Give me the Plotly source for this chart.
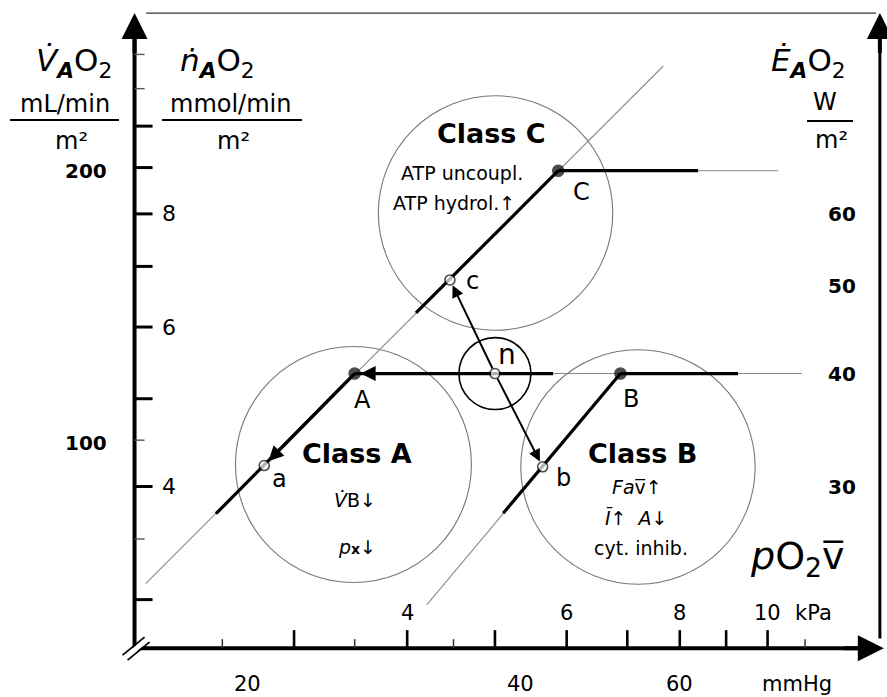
import numpy as np
import plotly.graph_objects as go

# ---------------- data ----------------
MMHG_PER_KPA = 7.50062          # 1 kPa = 7.5 mmHg
ML_PER_MMOL = 22.4              # 1 mmol O2 = 22.4 mL
ML_PER_W = 60.0 / 20.1          # 1 W  ~ 2.985 mL O2 / min

# frame of the diagram (pO2 in mmHg, VO2 in mL/min/m2)
pO2_axis_min = 15.0
pO2_axis_max = 99.8
pO2_arrow_tip = 100.8
VO2_axis_min = 59.4
VO2_axis_max = 298.6

# bottom axis ticks
mmHg_major = [20, 30, 40, 50, 60, 70, 80, 90]
mmHg_minor = [25, 35, 45]
mmHg_labeled = [20, 40, 60]
kPa_major = [3, 4, 5, 6, 7, 8, 9, 10]
kPa_minor = [2.5, 3.5, 4.5, 11]
kPa_labeled = [4, 6, 8, 10]
# top line ticks (kPa)
top_kPa_major = [3, 4, 5, 6, 7, 8, 9, 10]
top_kPa_minor = [2.5, 3.5, 4.5, 11, 12]
# left axis ticks
mL_major = [100, 200]
mL_minor = [70, 80, 90, 120, 140, 160, 180, 250]
mmol_major = [3, 4, 5, 6, 7, 8, 9, 10]
mmol_minor = [3.5, 4.5, 11, 12]
mmol_labeled = [4, 6, 8]
# right axis ticks (W/m2)
W_major = [30, 40, 50, 60, 70, 80, 90]
W_minor = [25, 35]
W_labeled = [30, 40, 50, 60]

# states
state_names = ["n", "A", "B", "C", "a", "b", "c"]
state_pO2 = [37.5, 26.25, 51.6, 44.05, 20.86, 42.34, 33.45]   # mmHg
state_VO2 = [119.4, 119.4, 119.4, 200.0, 94.5, 94.2, 151.5]   # mL/min/m2
state_filled = [False, True, True, True, False, False, False]

# thin guide lines
guide_pO2 = [[15.43, 57.54], [31.53, 51.6], [37.5, 81.86], [44.05, 77.07]]
guide_VO2 = [[70.0, 261.0], [66.3, 119.4], [119.4, 119.4], [200.0, 200.0]]
# thick segments
thick_pO2 = [[18.45, 26.25], [30.68, 44.05], [38.3, 51.6],
             [26.25, 43.47], [51.6, 69.57], [44.05, 62.84]]
thick_VO2 = [[83.6, 119.4], [139.3, 200.0], [83.7, 119.4],
             [119.4, 119.4], [119.4, 119.4], [200.0, 200.0]]

# arrows between states
arrow_pairs = [("n", "A"), ("A", "a"), ("n", "c"), ("n", "b")]

# class circles: centre and radius (natural-log units)
circle_names = ["Class A", "Class B", "Class C", "n-circle"]
circle_pO2 = [26.17, 53.95, 37.56, 37.5]
circle_VO2 = [94.75, 94.15, 179.6, 119.4]
circle_radius = [0.300, 0.298, 0.298, 0.0915]

class_notes = {
    "Class A": ["<i>V\u0307</i>B\u2193", "<i>p</i><b><span style='font-size:14px'>x</span></b>\u2193"],
    "Class B": ["<i>Fa</i>v\u0305\u2191", "<i>\u012a</i>\u2191  <i>A</i>\u2193", "cyt. inhib."],
    "Class C": ["ATP uncoupl.", "ATP hydrol.\u2191"],
}

# ---------------- style ----------------
FONT = "DejaVu Sans"
W, H = 887, 697
x_range = [1.02752, 2.00698]
y_range = [1.71983, 2.48954]
PX_PER_DECADE = W / (x_range[1] - x_range[0])
lg = np.log10

state_label_shift = {"n": (12, 19), "A": (8, -26), "B": (11, -25), "C": (23, -21),
                     "a": (15, -13), "b": (21, -11), "c": (23, -1)}
state_label_size = {"n": 28}
class_title_shift = {"Class A": (4, 11), "Class B": (5, 14), "Class C": (-4, 80)}
class_note_shift = {"Class A": [(2, -35), (4, -82)],
                    "Class B": [(-1, -20), (-1, -50), (3, -81)],
                    "Class C": [(-34, 40), (-42, 10)]}
arrow_style = {("n", "A"): (3, 1.0), ("A", "a"): (3, 1.0), ("n", "c"): (2, 1.2), ("n", "b"): (2, 1.2)}

fig = go.Figure()
shapes = []
ann = []

# class circles
for name, cx, cy, r in zip(circle_names, circle_pO2, circle_VO2, circle_radius):
    k = np.exp(r)
    small = name == "n-circle"
    shapes.append(dict(type="circle", xref="x", yref="y", x0=cx / k, x1=cx * k, y0=cy / k, y1=cy * k,
                       line=dict(color="black" if small else "#777777", width=1.6 if small else 1.1),
                       layer="below"))

# thin guide lines
for xs, ys in zip(guide_pO2, guide_VO2):
    fig.add_trace(go.Scatter(x=xs, y=ys, mode="lines", line=dict(color="#8a8a8a", width=1.1),
                             hoverinfo="skip", showlegend=False))
# thick segments
for xs, ys in zip(thick_pO2, thick_VO2):
    fig.add_trace(go.Scatter(x=xs, y=ys, mode="lines", line=dict(color="black", width=3.2),
                             hoverinfo="skip", showlegend=False))

# arrows
idx = {n: i for i, n in enumerate(state_names)}
for a, b in arrow_pairs:
    w, s = arrow_style[(a, b)]
    ann.append(dict(x=lg(state_pO2[idx[b]]), y=lg(state_VO2[idx[b]]),
                    ax=lg(state_pO2[idx[a]]), ay=lg(state_VO2[idx[a]]),
                    xref="x", yref="y", axref="x", ayref="y", text="", showarrow=True,
                    arrowhead=2, arrowwidth=w, arrowsize=s, arrowcolor="black",
                    standoff=6, startstandoff=4))

# state markers
fig.add_trace(go.Scatter(
    x=state_pO2, y=state_VO2, mode="markers",
    marker=dict(size=[11 if f else 10 for f in state_filled],
                color=["black" if f else "white" for f in state_filled],
                line=dict(color="black", width=1.6)),
    hoverinfo="skip", showlegend=False))

for n, x, y in zip(state_names, state_pO2, state_VO2):
    dx, dy = state_label_shift[n]
    ann.append(dict(x=lg(x), y=lg(y), xref="x", yref="y", text=n, showarrow=False,
                    xanchor="center", yanchor="middle",
                    xshift=dx, yshift=dy, font=dict(family=FONT, size=state_label_size.get(n, 24), color="black")))

# class texts
for name, cx, cy in zip(circle_names, circle_pO2, circle_VO2):
    if name not in class_notes:
        continue
    dx, dy = class_title_shift[name]
    ann.append(dict(x=lg(cx), y=lg(cy), xref="x", yref="y", text="<b>%s</b>" % name, showarrow=False,
                    xanchor="center", yanchor="middle",
                    xshift=dx, yshift=dy, font=dict(family=FONT, size=27, color="black")))
    for note, (ndx, ndy) in zip(class_notes[name], class_note_shift[name]):
        ann.append(dict(x=lg(cx), y=lg(cy), xref="x", yref="y", text=note, showarrow=False,
                        xanchor="center", yanchor="middle",
                        xshift=ndx, yshift=ndy, font=dict(family=FONT, size=19, color="black")))

# ---------------- axes ----------------
fig.add_trace(go.Scatter(x=[pO2_axis_min, pO2_axis_min], y=[VO2_axis_min, VO2_axis_max * 0.95],
                         mode="lines", line=dict(color="black", width=4), hoverinfo="skip", showlegend=False))
fig.add_trace(go.Scatter(x=[pO2_axis_min, pO2_arrow_tip * 0.95], y=[VO2_axis_min, VO2_axis_min],
                         mode="lines", line=dict(color="black", width=4), hoverinfo="skip", showlegend=False))
fig.add_trace(go.Scatter(x=[pO2_axis_max, pO2_axis_max], y=[VO2_axis_min * 1.025, VO2_axis_max * 0.95],
                         mode="lines", line=dict(color="black", width=3), hoverinfo="skip", showlegend=False))
fig.add_trace(go.Scatter(x=[pO2_axis_min * 1.03, pO2_axis_max * 0.99], y=[VO2_axis_max, VO2_axis_max],
                         mode="lines", line=dict(color="#333333", width=1.4), hoverinfo="skip", showlegend=False))

# axis break marks "//" at the origin (offsets in screen pixels, up positive)
for (a0, b0, a1, b1, col, wd) in [(-10, -10, 13, 9, "white", 5),
                                  (-12, -7, 10, 11, "black", 1.8),
                                  (-7, -12, 15, 6, "black", 1.8)]:
    fig.add_trace(go.Scatter(
        x=[pO2_axis_min * 10 ** (a0 / PX_PER_DECADE), pO2_axis_min * 10 ** (a1 / PX_PER_DECADE)],
        y=[VO2_axis_min * 10 ** (b0 / PX_PER_DECADE), VO2_axis_min * 10 ** (b1 / PX_PER_DECADE)],
        mode="lines", line=dict(color=col, width=wd), hoverinfo="skip", showlegend=False))

# axis arrowheads
for (x0, y0, x1, y1) in [(pO2_axis_min, VO2_axis_max * 0.9, pO2_axis_min, VO2_axis_max),
                         (pO2_axis_max, VO2_axis_max * 0.9, pO2_axis_max, VO2_axis_max),
                         (pO2_arrow_tip * 0.9, VO2_axis_min, pO2_arrow_tip, VO2_axis_min)]:
    ann.append(dict(x=lg(x1), y=lg(y1), ax=lg(x0), ay=lg(y0), xref="x", yref="y", axref="x", ayref="y",
                    text="", showarrow=True, arrowhead=2, arrowwidth=4, arrowsize=1.3, arrowcolor="black",
                    standoff=0))


def vtick(xval, yanchor, p0, p1, width, color="black"):
    shapes.append(dict(type="line", xref="x", yref="y", ysizemode="pixel", yanchor=yanchor,
                       x0=xval, x1=xval, y0=p0, y1=p1, line=dict(color=color, width=width)))


def htick(yval, xanchor, p0, p1, width, color="black"):
    shapes.append(dict(type="line", xref="x", yref="y", xsizemode="pixel", xanchor=xanchor,
                       y0=yval, y1=yval, x0=p0, x1=p1, line=dict(color=color, width=width)))


for v in mmHg_major:
    vtick(v, VO2_axis_min, 0, -19, 2.6)
for v in mmHg_minor:
    vtick(v, VO2_axis_min, 0, -10, 1.5, "#333333")
for v in kPa_major:
    vtick(v * MMHG_PER_KPA, VO2_axis_min, 0, 18, 2.6)
for v in kPa_minor:
    vtick(v * MMHG_PER_KPA, VO2_axis_min, 0, 9, 1.5, "#333333")
for v in top_kPa_major:
    vtick(v * MMHG_PER_KPA, VO2_axis_max, 0, -17, 1.4, "#333333")
for v in top_kPa_minor:
    vtick(v * MMHG_PER_KPA, VO2_axis_max, 0, -8, 1.4, "#333333")
for v in mL_major:
    htick(v, pO2_axis_min, -18, 0, 3)
for v in mL_minor:
    htick(v, pO2_axis_min, -18, 0, 1.4, "#444444")
for v in mmol_major:
    htick(v * ML_PER_MMOL, pO2_axis_min, 0, 18, 3)
for v in mmol_minor:
    htick(v * ML_PER_MMOL, pO2_axis_min, 0, 10, 1.4, "#555555")
for v in W_major:
    htick(v * ML_PER_W, pO2_axis_max, -15, 0, 3)
for v in W_minor:
    htick(v * ML_PER_W, pO2_axis_max, -8, 0, 1.4, "#555555")

# tick labels
for v in mmHg_labeled:
    ann.append(dict(x=lg(v), y=lg(VO2_axis_min), xref="x", yref="y", text=str(v), showarrow=False,
                    xanchor="center", yanchor="middle",
                    yshift=-36, font=dict(family=FONT, size=21, color="black")))
for v in kPa_labeled:
    ann.append(dict(x=lg(v * MMHG_PER_KPA), y=lg(VO2_axis_min), xref="x", yref="y", text=str(v),
                    xanchor="center", yanchor="middle",
                    showarrow=False, yshift=35, font=dict(family=FONT, size=21, color="black")))
for v in mL_major:
    ann.append(dict(x=lg(pO2_axis_min), y=lg(v), xref="x", yref="y", text="<b>%d</b>" % v, showarrow=False,
                    xanchor="right", yanchor="middle", xshift=-26, font=dict(family=FONT, size=20, color="black")))
for v in mmol_labeled:
    ann.append(dict(x=lg(pO2_axis_min), y=lg(v * ML_PER_MMOL), xref="x", yref="y", text=str(v),
                    showarrow=False, xanchor="left", yanchor="middle", xshift=25,
                    font=dict(family=FONT, size=22, color="black")))
for v in W_labeled:
    ann.append(dict(x=lg(pO2_axis_max), y=lg(v * ML_PER_W), xref="x", yref="y", text="<b>%d</b>" % v,
                    showarrow=False, xanchor="right", yanchor="middle", xshift=-22,
                    font=dict(family=FONT, size=20, color="black")))


def ptext(px, py, text, size):
    ann.append(dict(x=px / W, y=1 - py / H, xref="paper", yref="paper", text=text, showarrow=False,
                    xanchor="center", yanchor="middle",
                    font=dict(family=FONT, size=size, color="black")))


def pbar(x0, x1, py):
    shapes.append(dict(type="line", xref="paper", yref="paper", x0=x0 / W, x1=x1 / W,
                       y0=1 - py / H, y1=1 - py / H, line=dict(color="black", width=2)))


ptext(813, 613, "kPa", 21)
ptext(797, 684, "mmHg", 21)

ptext(74, 63, "<i>V\u0307</i><sub><i><b>A</b></i></sub>O<sub>2</sub>", 31)
ptext(65, 104, "mL/min", 24)
pbar(10, 119, 120)
ptext(71, 141, "m\u00b2", 24)

ptext(217, 63, "<i>n\u0307</i><sub><i><b>A</b></i></sub>O<sub>2</sub>", 31)
ptext(230, 104, "mmol/min", 24)
pbar(162, 302, 120)
ptext(233, 141, "m\u00b2", 24)

ptext(808, 63, "<i>E\u0307</i><sub><i><b>A</b></i></sub>O<sub>2</sub>", 31)
ptext(825, 102, "W", 24)
pbar(807, 853, 121)
ptext(831, 140, "m\u00b2", 24)

ptext(797, 558, "<i>p</i>O<sub>2</sub>v\u0305", 38)

fig.update_layout(
    width=W, height=H, margin=dict(l=0, r=0, t=0, b=0),
    paper_bgcolor="white", plot_bgcolor="white",
    xaxis=dict(type="log", range=x_range, visible=False, fixedrange=True),
    yaxis=dict(type="log", range=y_range, visible=False, fixedrange=True),
    shapes=shapes, annotations=ann, showlegend=False,
    font=dict(family=FONT, color="black"),
)

fig.write_html("out.html", config={"displayModeBar": False},
               post_script="document.body.style.margin='0px';document.body.style.overflow='hidden';")
